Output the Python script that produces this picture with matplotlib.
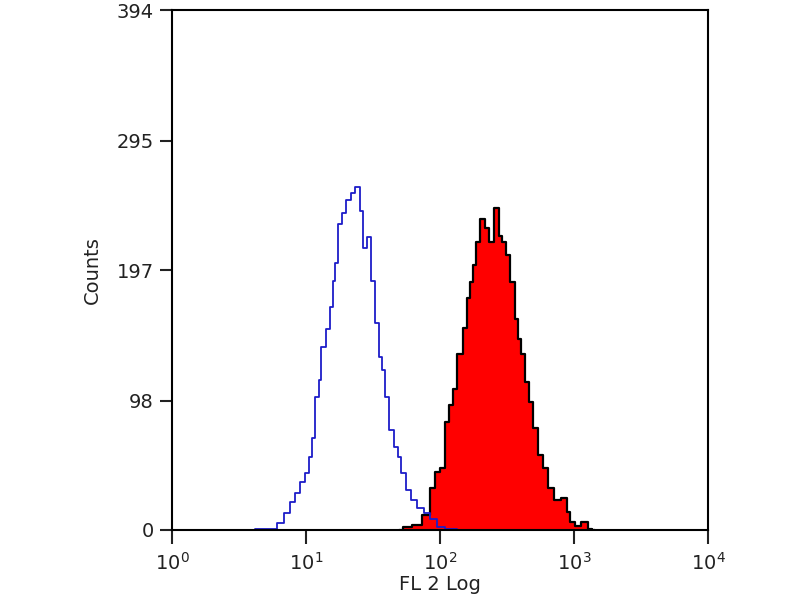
import matplotlib
matplotlib.use('Agg')
import matplotlib.pyplot as plt
from matplotlib.ticker import FixedLocator, NullLocator

plt.rcParams['font.family'] = ['DejaVu Sans']
plt.rcParams['mathtext.default'] = 'regular'

# control (isotype) - blue outline, FL2 channel value vs counts
ctrl_fl = [3.82, 4.54, 5.67, 6.40, 7.21, 7.86, 8.57, 9.50, 10.2, 10.7, 11.3,
           12.1, 12.7, 13.4, 14.6, 15.6, 16.2, 17.0, 17.9, 19.5, 20.6, 22.4,
           24.0, 26.2, 27.5, 30.0, 31.6, 33.9, 35.7, 37.6, 40.2, 42.4, 47.7,
           50.3, 52.9, 57.7, 62.9, 71.0, 80.0, 88.7, 100, 119, 148]
ctrl_counts = [0, 1, 1, 5, 13, 21, 28, 36, 43, 55, 70,
               101, 114, 139, 152, 169, 189, 202, 232, 240, 250, 255,
               260, 242, 214, 222, 189, 157, 131, 121, 101, 76, 63,
               55, 43, 30, 23, 17, 13, 8, 2, 1, 0]

# stained sample - red filled
samp_fl = [50, 56.7, 67.3, 80.0, 87.1, 96.6, 105, 113, 119, 129, 141, 154,
           162, 173, 182, 192, 206, 224, 244, 266, 281, 295, 322, 345, 375,
           395, 416, 446, 470, 512, 557, 608, 662, 746, 857, 902, 966, 1052,
           1208, 1316, 1400]
samp_counts = [0, 2, 4, 11, 32, 44, 47, 82, 95, 107, 133, 153,
               176, 188, 201, 218, 236, 229, 218, 244, 223, 218, 208, 188, 160,
               145, 133, 112, 97, 77, 57, 47, 32, 23, 24, 14, 6, 3,
               6, 1, 0]

yticks = [0, 98, 197, 295, 394]
xticks = [1, 10, 100, 1000, 10000]
xlabels = ['$10^{0}$', '$10^{1}$', '$10^{2}$', '$10^{3}$', '$10^{4}$']

fig = plt.figure(figsize=(8, 6), dpi=100)
ax = fig.add_axes([0.215, 0.1167, 0.67, 0.8666])

ax.fill_between(samp_fl, samp_counts, step='mid', color='#ff0000', linewidth=0)
ax.step(samp_fl, samp_counts, where='mid', color='black', linewidth=1.6)
ax.step(ctrl_fl, ctrl_counts, where='mid', color='#1c1cc8', linewidth=1.3)

ax.set_xscale('log')
ax.set_xlim(1, 10000)
ax.set_ylim(0, 394)
ax.xaxis.set_major_locator(FixedLocator(xticks))
ax.xaxis.set_minor_locator(NullLocator())
ax.set_xticklabels(xlabels)
ax.set_yticks(yticks)
ax.set_yticklabels([str(v) for v in yticks])

for s in ax.spines.values():
    s.set_linewidth(1.5)
ax.tick_params(axis='x', direction='out', length=10, width=1.5, labelsize=14, pad=6, colors='#222222')
ax.tick_params(axis='y', direction='out', length=9, width=1.5, labelsize=14, pad=4, colors='#222222')

ax.set_xlabel('FL 2 Log', fontsize=14, color='#222222', labelpad=1)
ax.set_ylabel('Counts', fontsize=14, color='#222222', labelpad=11)

fig.savefig('out.png', dpi=100)
